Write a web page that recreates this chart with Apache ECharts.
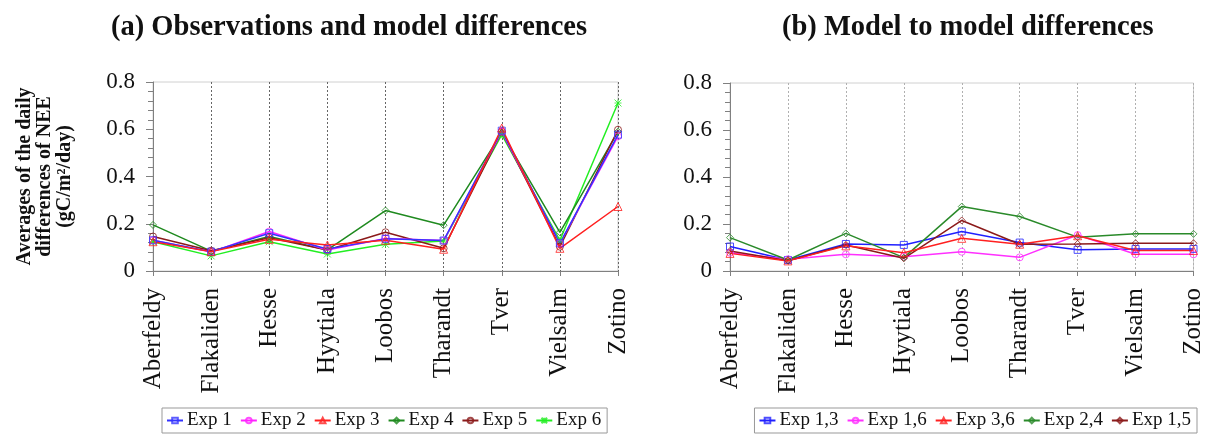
<!DOCTYPE html>
<html>
<head>
<meta charset="utf-8">
<script src="https://cdn.jsdelivr.net/npm/echarts@6/dist/echarts.min.js"></script>
<style>
html,body{margin:0;padding:0;background:#fff;}
#chart{width:1206px;height:438px;}
</style>
</head>
<body>
<div id="chart"></div>
<script>
const categories = ['Aberfeldy','Flakaliden','Hesse','Hyytiala','Loobos','Tharandt','Tver','Vielsalm','Zotino'];
const yTicks = [0, 0.2, 0.4, 0.6, 0.8];

// (a) Observations and model differences
const exp1 = [0.130, 0.082, 0.160, 0.093, 0.136, 0.129, 0.594, 0.117, 0.577];
const exp2 = [0.130, 0.080, 0.167, 0.089, 0.138, 0.129, 0.590, 0.117, 0.570];
const exp3 = [0.124, 0.082, 0.134, 0.110, 0.130, 0.092, 0.605, 0.096, 0.273];
const exp4 = [0.195, 0.084, 0.146, 0.089, 0.256, 0.194, 0.585, 0.164, 0.590];
const exp5 = [0.146, 0.086, 0.141, 0.089, 0.164, 0.096, 0.590, 0.103, 0.598];
const exp6 = [0.124, 0.064, 0.124, 0.072, 0.113, 0.127, 0.577, 0.130, 0.711];

// (b) Model to model differences
const exp13 = [0.104, 0.047, 0.115, 0.111, 0.168, 0.121, 0.090, 0.094, 0.094];
const exp16 = [0.078, 0.050, 0.071, 0.061, 0.082, 0.058, 0.153, 0.071, 0.071];
const exp36 = [0.075, 0.043, 0.107, 0.078, 0.139, 0.114, 0.150, 0.087, 0.087];
const exp24 = [0.142, 0.047, 0.160, 0.057, 0.274, 0.232, 0.144, 0.158, 0.158];
const exp15 = [0.085, 0.044, 0.111, 0.054, 0.215, 0.114, 0.115, 0.118, 0.118];

const FONT = '"Liberation Serif", serif';
const ASTER = 'path://M0,0L10,10M10,0L0,10M5,0L5,10M0,5L10,5';

function mkSeries(name, data, color, symbol, idx) {
  return {
    name: name, type: 'line', data: data,
    xAxisIndex: idx, yAxisIndex: idx,
    symbol: symbol, symbolSize: symbol === 'triangle' ? 8 : 7,
    showSymbol: true,
    lineStyle: {color: color, width: 1.5},
    itemStyle: {color: symbol === ASTER ? color : 'rgba(255,255,255,0)', borderColor: color, borderWidth: 1, opacity: 0.8},
    emphasis: {disabled: true},
    animation: false
  };
}

function xAxis(idx, gridColor) {
  return {
    type: 'category', gridIndex: idx, data: categories, boundaryGap: false,
    axisLine: {show: true, lineStyle: {color: '#808080', width: 1}},
    axisTick: {show: true, length: 5, lineStyle: {color: '#808080'}, alignWithLabel: true},
    axisLabel: {rotate: 90, margin: 17, fontFamily: FONT, fontSize: 25, color: '#111', interval: 0},
    splitLine: {show: true, lineStyle: {color: gridColor, type: [2, 2], width: 1}}
  };
}

function yAxis(idx, withName) {
  const ax = {
    type: 'value', gridIndex: idx, min: yTicks[0], max: yTicks[yTicks.length - 1], interval: 0.2,
    axisLine: {show: true, lineStyle: {color: '#808080', width: 1}},
    axisTick: {show: true, length: 7, lineStyle: {color: '#808080'}},
    minorTick: {show: true, splitNumber: 5, length: 5, lineStyle: {color: '#808080'}},
    axisLabel: {margin: 18, fontFamily: FONT, fontSize: 23, color: '#111',
      formatter: v => (yTicks.some(t => Math.abs(t - v) < 1e-9) ? (v === 0 ? '0' : v.toFixed(1)) : '')},
    splitLine: {show: false}
  };
  if (withName) {
    ax.name = 'Averages of the daily\ndifferences of NEE\n(gC/m²/day)';
    ax.nameLocation = 'middle';
    ax.nameGap = 78;
    ax.nameTextStyle = {fontFamily: FONT, fontSize: 20, fontWeight: 'bold', color: '#111', lineHeight: 20};
  }
  return ax;
}

const legendCommon = {
  borderColor: '#999', borderWidth: 1, padding: [3, 6, 3, 4], itemGap: 8, itemWidth: 16, itemHeight: 7,
  textStyle: {fontFamily: FONT, fontSize: 19, color: '#111', padding: [0, 0, 0, -1]}
};

const chart = echarts.init(document.getElementById('chart'), null, {renderer: 'canvas'});
chart.setOption({
  backgroundColor: '#fff',
  animation: false,
  title: [
    {text: '(a) Observations and model differences', left: 106, top: 8,
      textStyle: {fontFamily: FONT, fontSize: 28.5, fontWeight: 'bold', color: '#111'}},
    {text: '(b) Model to model differences', left: 777, top: 8,
      textStyle: {fontFamily: FONT, fontSize: 28.5, fontWeight: 'bold', color: '#111'}}
  ],
  grid: [
    {left: 153, right: 588, top: 82, bottom: 167, show: true, borderColor: '#d0d0d0', borderWidth: 1, backgroundColor: 'transparent'},
    {left: 730, right: 12, top: 83, bottom: 167, show: true, borderColor: '#d0d0d0', borderWidth: 1, backgroundColor: 'transparent'}
  ],
  xAxis: [xAxis(0, '#666'), xAxis(1, '#b0b0b0')],
  yAxis: [yAxis(0, true), yAxis(1, false)],
  legend: [
    Object.assign({data: ['Exp 1','Exp 2','Exp 3','Exp 4','Exp 5','Exp 6'], left: 162, top: 408}, legendCommon),
    Object.assign({data: ['Exp 1,3','Exp 1,6','Exp 3,6','Exp 2,4','Exp 1,5'], right: 9, top: 408}, legendCommon)
  ],
  series: [
    mkSeries('Exp 6', exp6, '#22ee22', ASTER, 0),
    mkSeries('Exp 4', exp4, '#1f8a1f', 'diamond', 0),
    mkSeries('Exp 5', exp5, '#8b1a1a', 'circle', 0),
    mkSeries('Exp 2', exp2, '#ff22ff', 'circle', 0),
    mkSeries('Exp 1', exp1, '#3333ff', 'rect', 0),
    mkSeries('Exp 3', exp3, '#ff2020', 'triangle', 0),
    mkSeries('Exp 1,3', exp13, '#2020ff', 'rect', 1),
    mkSeries('Exp 1,6', exp16, '#ff30ff', 'circle', 1),
    mkSeries('Exp 2,4', exp24, '#2a8a2a', 'diamond', 1),
    mkSeries('Exp 1,5', exp15, '#8b1a1a', 'diamond', 1),
    mkSeries('Exp 3,6', exp36, '#ff2020', 'triangle', 1)
  ]
});
</script>
</body>
</html>
